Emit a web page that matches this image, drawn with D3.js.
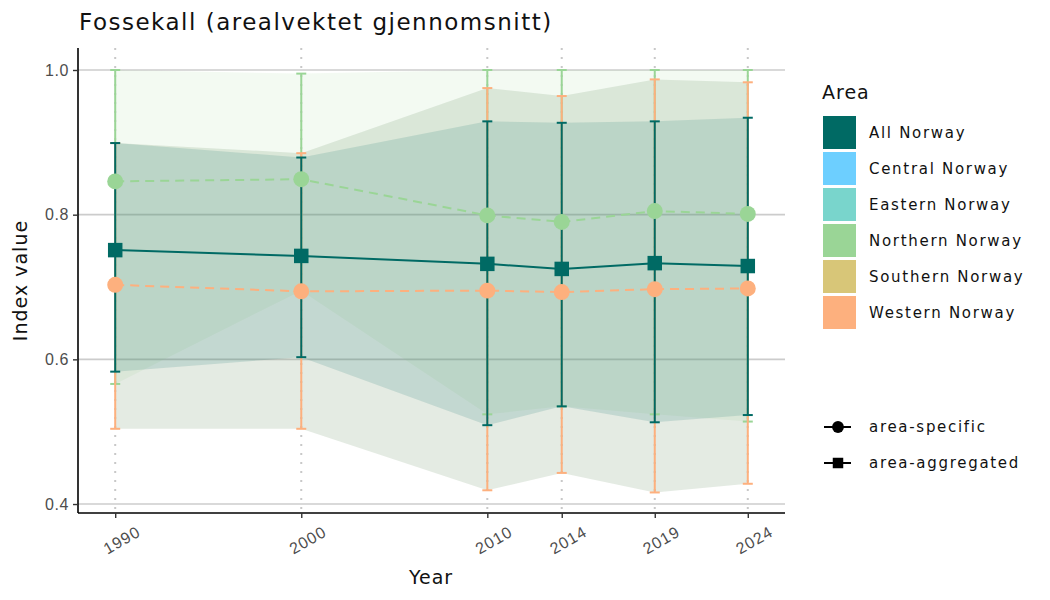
<!DOCTYPE html>
<html>
<head>
<meta charset="utf-8">
<script src="https://cdn.jsdelivr.net/npm/d3@7"></script>
<style>
  body { margin: 0; background: #fff; }
  svg { font-family: "DejaVu Sans", sans-serif; }
</style>
</head>
<body>
<div id="block"></div>
<script>
// data
var years = [1990, 2000, 2010, 2014, 2019, 2024];

var allMean  = [0.751, 0.743, 0.732, 0.725, 0.733, 0.729];
var allLow   = [0.583, 0.603, 0.509, 0.535, 0.513, 0.523];
var allHigh  = [0.899, 0.879, 0.929, 0.927, 0.929, 0.934];

var northMean = [0.846, 0.849, 0.799, 0.790, 0.805, 0.801];
var northLow  = [0.566, 0.695, 0.524, 0.535, 0.524, 0.514];
var northHigh = [1.000, 0.995, 1.000, 1.000, 1.000, 1.000];

var westMean = [0.703, 0.694, 0.695, 0.693, 0.697, 0.698];
var westLow  = [0.504, 0.504, 0.419, 0.443, 0.416, 0.428];
var westHigh = [0.899, 0.885, 0.975, 0.964, 0.987, 0.983];

var areaNames  = ["All Norway", "Central Norway", "Eastern Norway", "Northern Norway", "Southern Norway", "Western Norway"];
var areaColors = ["#006a64", "#6dcfff", "#79d5cc", "#9ad596", "#d8c678", "#fdb07e"];
var shapeNames = ["area-specific", "area-aggregated"];
var yTicks = [0.4, 0.6, 0.8, 1.0];

var color = d3.scaleOrdinal().domain(areaNames).range(areaColors);

function rows(mean, low, high) {
    return years.map(function (yr, i) {
        return {year: yr, mean: mean[i], low: low[i], high: high[i]};
    });
}

// series in draw order: Northern, Western, then All Norway on top
var series = [
    {name: "Northern Norway", kind: "area-specific", data: rows(northMean, northLow, northHigh),
     rib: "#9ad596", ribAlpha: 0.12},
    {name: "Western Norway", kind: "area-specific", data: rows(westMean, westLow, westHigh),
     rib: "#7a9a73", ribAlpha: 0.2},
    {name: "All Norway", kind: "area-aggregated", data: rows(allMean, allLow, allHigh),
     rib: "#006a64", ribAlpha: 0.14}
];

// dimensions (panel edges)
var svg_dx = 1050, svg_dy = 600,
    pLeft = 78, pRight = 785, pTop = 48, pBottom = 513;

var svg = d3.select("#block").append("svg")
    .attr("width", svg_dx)
    .attr("height", svg_dy);

var x = d3.scaleLinear().domain([1988, 2026]).range([pLeft, pRight]);
var y = d3.scaleLinear().domain([0.3876, 1.0304]).range([pBottom, pTop]);

// grid
svg.append("g").selectAll("line")
    .data(yTicks).enter().append("line")
    .attr("x1", pLeft).attr("x2", pRight)
    .attr("y1", function (d) { return y(d); })
    .attr("y2", function (d) { return y(d); })
    .attr("stroke", "#cccccc").attr("stroke-width", 1.6);

svg.append("g").selectAll("line")
    .data(years).enter().append("line")
    .attr("x1", function (d) { return x(d); })
    .attr("x2", function (d) { return x(d); })
    .attr("y1", pTop).attr("y2", pBottom)
    .attr("stroke", "#c8c8c8").attr("stroke-width", 2)
    .attr("stroke-dasharray", "2,7");

// ribbons
var area = d3.area()
    .x(function (d) { return x(d.year); })
    .y0(function (d) { return y(d.low); })
    .y1(function (d) { return y(d.high); });

svg.append("g").selectAll("path")
    .data(series).enter().append("path")
    .attr("d", function (s) { return area(s.data); })
    .attr("fill", function (s) { return s.rib; })
    .attr("fill-opacity", function (s) { return s.ribAlpha; });

// error bars
var capW = 5;
series.forEach(function (s) {
    var g = svg.append("g")
        .attr("stroke", color(s.name))
        .attr("stroke-width", 2);
    g.selectAll(".bar").data(s.data).enter().append("line")
        .attr("x1", function (d) { return x(d.year); })
        .attr("x2", function (d) { return x(d.year); })
        .attr("y1", function (d) { return y(d.low); })
        .attr("y2", function (d) { return y(d.high); });
    ["low", "high"].forEach(function (k) {
        g.selectAll(".cap-" + k).data(s.data).enter().append("line")
            .attr("x1", function (d) { return x(d.year) - capW; })
            .attr("x2", function (d) { return x(d.year) + capW; })
            .attr("y1", function (d) { return y(d[k]); })
            .attr("y2", function (d) { return y(d[k]); });
    });
});

// lines
var line = d3.line()
    .x(function (d) { return x(d.year); })
    .y(function (d) { return y(d.mean); });

series.forEach(function (s) {
    svg.append("path")
        .attr("d", line(s.data))
        .attr("fill", "none")
        .attr("stroke", color(s.name))
        .attr("stroke-width", 2)
        .attr("stroke-dasharray", s.kind === "area-specific" ? "9,6" : null);
});

// points
var circleSym = d3.symbol().type(d3.symbolCircle).size(200);
var squareSym = d3.symbol().type(d3.symbolSquare).size(210);

series.forEach(function (s) {
    svg.append("g").selectAll("path")
        .data(s.data).enter().append("path")
        .attr("transform", function (d) { return "translate(" + x(d.year) + "," + y(d.mean) + ")"; })
        .attr("d", s.kind === "area-specific" ? circleSym : squareSym)
        .attr("fill", color(s.name));
});

// axes
var yAxis = svg.append("g")
    .attr("transform", "translate(" + pLeft + ",0)")
    .call(d3.axisLeft(y).tickValues(yTicks).tickFormat(d3.format(".1f")).tickSize(5).tickSizeOuter(0));
yAxis.select(".domain").attr("stroke", "#000").attr("stroke-width", 1.6)
    .attr("d", "M0," + pTop + "V" + pBottom);
yAxis.selectAll(".tick line").attr("stroke", "#333").attr("stroke-width", 1.4);
yAxis.selectAll(".tick text").attr("fill", "#4d4d4d")
    .style("font-size", "16px").style("letter-spacing", "0.6px").attr("x", -9);

var xAxis = svg.append("g")
    .attr("transform", "translate(0," + pBottom + ")")
    .call(d3.axisBottom(x).tickValues(years).tickFormat(d3.format("d")).tickSize(5).tickSizeOuter(0));
xAxis.select(".domain").attr("stroke", "#000").attr("stroke-width", 1.6)
    .attr("d", "M" + pLeft + ",0H" + pRight);
xAxis.selectAll(".tick line").attr("stroke", "#333").attr("stroke-width", 1.4);
xAxis.selectAll(".tick text")
    .attr("fill", "#4d4d4d").style("font-size", "16px").style("letter-spacing", "1px")
    .attr("text-anchor", "end")
    .attr("x", 0).attr("y", 0).attr("dy", null)
    .attr("transform", "translate(26,22) rotate(-30)");

// titles
svg.append("text").attr("x", 79).attr("y", 30)
    .style("font-size", "23px").style("letter-spacing", "1.5px").attr("fill", "#111")
    .text("Fossekall (arealvektet gjennomsnitt)");

svg.append("text").attr("x", 431).attr("y", 584)
    .attr("text-anchor", "middle").style("font-size", "19px").style("letter-spacing", "1px")
    .attr("fill", "#111").text("Year");

svg.append("text")
    .attr("transform", "translate(27," + ((pTop + pBottom) / 2) + ") rotate(-90)")
    .attr("text-anchor", "middle").style("font-size", "19px").style("letter-spacing", "1px")
    .attr("fill", "#111").text("Index value");

// legend: area
var leg = svg.append("g").attr("transform", "translate(822,0)");
leg.append("text").attr("x", 0).attr("y", 99)
    .style("font-size", "19px").style("letter-spacing", "1px").attr("fill", "#111").text("Area");

var keys = leg.selectAll(".key").data(areaNames).enter().append("g")
    .attr("transform", function (d, i) { return "translate(0," + (116 + i * 36) + ")"; });
keys.append("rect").attr("x", 1).attr("y", 0).attr("width", 33).attr("height", 33)
    .attr("fill", function (d) { return color(d); });
keys.append("text").attr("x", 47).attr("y", 17).attr("dy", "0.35em")
    .style("font-size", "15px").style("letter-spacing", "1.7px")
    .attr("fill", "#111").text(function (d) { return d; });

// legend: shape
var sk = leg.selectAll(".shape").data(shapeNames).enter().append("g")
    .attr("transform", function (d, i) { return "translate(0," + (427 + i * 36) + ")"; });
sk.append("line").attr("x1", 2).attr("x2", 29).attr("y1", 0).attr("y2", 0)
    .attr("stroke", "#000").attr("stroke-width", 2);
sk.append("path").attr("transform", "translate(16,0)")
    .attr("d", function (d) {
        return d === "area-specific"
            ? d3.symbol().type(d3.symbolCircle).size(110)()
            : d3.symbol().type(d3.symbolSquare).size(110)();
    })
    .attr("fill", "#000");
sk.append("text").attr("x", 47).attr("y", 0).attr("dy", "0.35em")
    .style("font-size", "15px").style("letter-spacing", "1.7px")
    .attr("fill", "#111").text(function (d) { return d; });
</script>
</body>
</html>
